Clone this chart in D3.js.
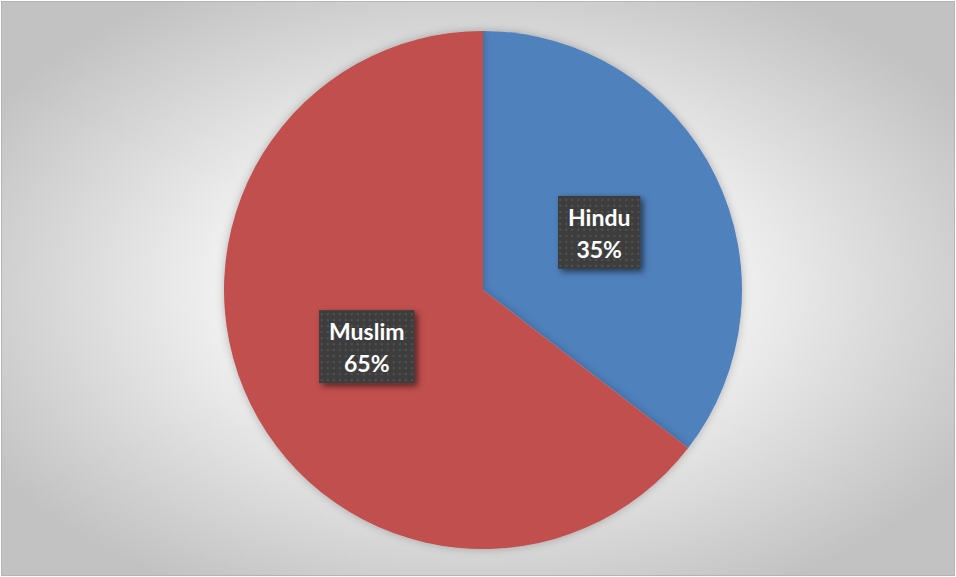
<!DOCTYPE html>
<html><head><meta charset="utf-8">
<script src="https://cdn.jsdelivr.net/npm/d3@7"></script>
<style>html,body{margin:0;padding:0;background:#fff;}svg{display:block;}</style>
</head><body>
<script>
const categories = ["Hindu", "Muslim"];
const values = [35.45, 64.55];
const labels = ["35%", "65%"];
const colors = ["#4f81bd", "#c0504d"];

const W = 956, H = 577;
const svg = d3.select("body").append("svg").attr("width", W).attr("height", H);
const defs = svg.append("defs");
const rg = defs.append("radialGradient").attr("id","bg").attr("cx","50%").attr("cy","50%").attr("r","60%");
rg.append("stop").attr("offset","0%").attr("stop-color","#ffffff");
rg.append("stop").attr("offset","40%").attr("stop-color","#f4f4f4");
rg.append("stop").attr("offset","100%").attr("stop-color","#c2c2c2");
const pat = defs.append("pattern").attr("id","dots").attr("width",6).attr("height",6).attr("patternUnits","userSpaceOnUse");
pat.append("rect").attr("width",6).attr("height",6).attr("fill","#3d3d3d");
pat.append("rect").attr("x",2).attr("y",2).attr("width",2).attr("height",2).attr("fill","#535353");
const f = defs.append("filter").attr("id","sh").attr("x","-20%").attr("y","-20%").attr("width","150%").attr("height","150%");
f.append("feDropShadow").attr("dx",3).attr("dy",3).attr("stdDeviation",3).attr("flood-color","#000").attr("flood-opacity",0.55);
const f2 = defs.append("filter").attr("id","psh").attr("x","-10%").attr("y","-10%").attr("width","120%").attr("height","120%");
f2.append("feDropShadow").attr("dx",0).attr("dy",0).attr("stdDeviation",4).attr("flood-color","#000").attr("flood-opacity",0.25);

svg.append("rect").attr("x",1.5).attr("y",1.5).attr("width",W-3).attr("height",H-3)
  .attr("fill","url(#bg)").attr("stroke","#b4b4b4").attr("stroke-width",1);

const cx = 483, cy = 290, r = 259;
const pie = d3.pie().sort(null).value(d => d);
const arcs = pie(values);
const arc = d3.arc().innerRadius(0).outerRadius(r);
const g = svg.append("g").attr("transform",`translate(${cx},${cy})`);
g.selectAll("path.slice").data(arcs).join("path").attr("class","slice")
  .attr("d", arc).attr("fill",(d,i)=>colors[i]).attr("filter","url(#psh)");

const lg = g.selectAll("g.lab").data(arcs).join("g").attr("class","lab")
  .attr("transform", d => { const c = arc.centroid(d); return `translate(${c[0]},${c[1]})`; });
const boxes = lg.append("rect").attr("fill","url(#dots)").attr("filter","url(#sh)");
const texts = lg.append("text").attr("text-anchor","middle").attr("fill","#fff")
  .attr("font-family","Lato, 'Open Sans', sans-serif").attr("font-weight","bold").attr("font-size",23);
texts.append("tspan").attr("x",0).attr("y",-7).text((d,i)=>categories[i]);
texts.append("tspan").attr("x",0).attr("y",25).text((d,i)=>labels[i]);
lg.each(function(){
  const t = d3.select(this).select("text").node().getBBox();
  d3.select(this).select("rect").attr("x",t.x-10).attr("y",-37).attr("width",t.width+20).attr("height",73);
});
</script>
</body></html>
